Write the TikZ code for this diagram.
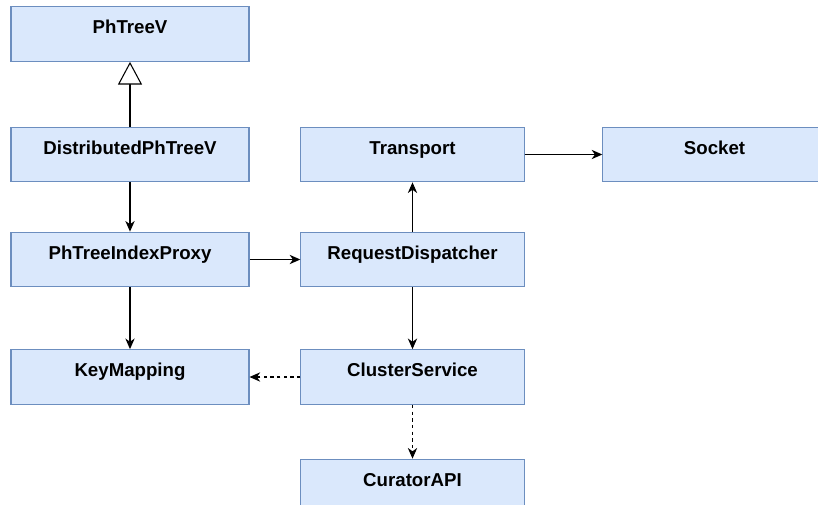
\documentclass[tikz,border=0pt]{standalone}
\usepackage{fontspec}
\setmainfont{Liberation Sans}
\usepackage{tikz}
\usetikzlibrary{positioning,shapes,arrows.meta,calc}
\definecolor{boxfill}{HTML}{DAE8FC}
\definecolor{boxline}{HTML}{6C8EBF}

\tikzset{
  cls/.style={draw=boxline, fill=boxfill, line width=0.8pt, minimum height=41pt,
    font=\fontsize{14}{16}\selectfont\bfseries, text height=9.5pt, text depth=10pt},
  wide/.style={cls, minimum width=178.5pt},
  narrow/.style={cls, minimum width=167.5pt},
  uses/.style={line width=0.8pt, -{Stealth[length=8pt, width=7pt, inset=2.5pt]}},
  dep/.style={uses, dash pattern=on 2.5pt off 2.5pt},
  inherit/.style={line width=0.8pt, -{Triangle[open, length=17pt, width=18pt, fill=white]}}
}

\begin{document}
\begin{tikzpicture}[x=0.75pt, y=-0.75pt]
      \useasboundingbox (0,0) rectangle (818,504);

      \node[wide] (phtreev) at (130,34) {PhTreeV};
      \node[wide] (distributed) at (130,154.5) {DistributedPhTreeV};
      \node[wide] (proxy) at (130,259.5) {PhTreeIndexProxy};
      \node[wide] (keymapping) at (130,377) {KeyMapping};

      \node[narrow] (transport) at (412.5,154.5) {Transport};
      \node[narrow] (socket) at (714.5,154.5) {Socket};
      \node[narrow] (dispatcher) at (412.5,259.5) {RequestDispatcher};
      \node[narrow] (cluster) at (412.5,377) {ClusterService};
      \node[narrow] (curator) at (412.5,486.5) {CuratorAPI};

      \draw[inherit] (distributed) -- (phtreev);
      \draw[uses] (distributed) -- (proxy);
      \draw[uses] (proxy) -- (keymapping);
      \draw[uses] (proxy) -- (dispatcher);
      \draw[uses] (dispatcher) -- (transport);
      \draw[uses] (transport) -- (socket);
      \draw[uses] (dispatcher) -- (cluster);
      \draw[dep] (cluster) -- (keymapping);
      \draw[dep] (cluster) -- (curator);
    \end{tikzpicture}
\end{document}
